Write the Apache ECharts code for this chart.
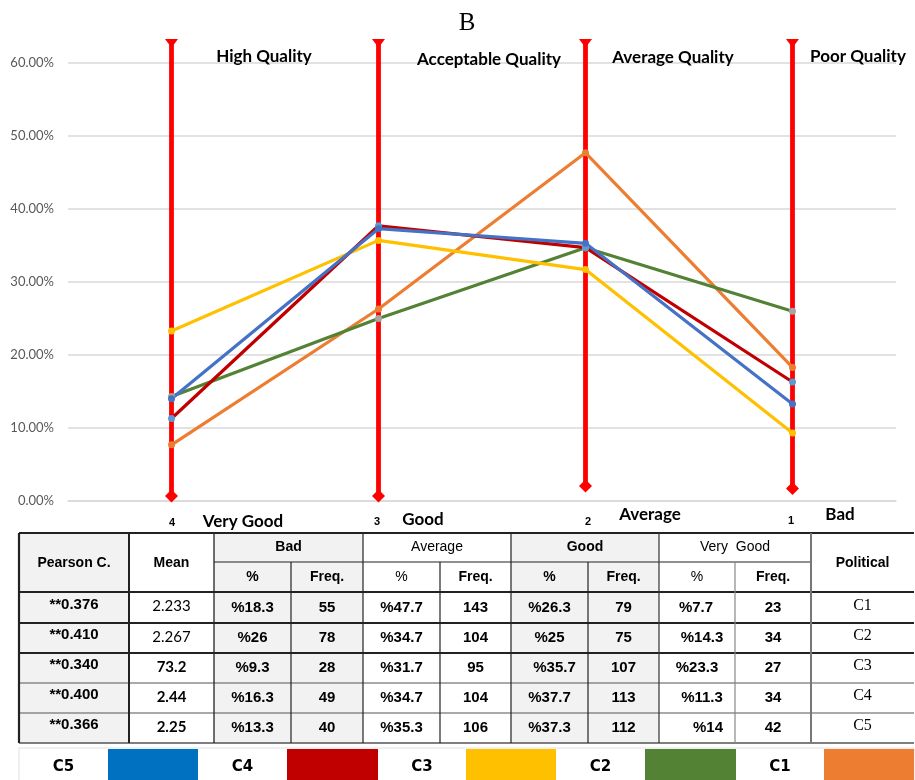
<!DOCTYPE html>
<html>
<head>
<meta charset="utf-8">
<script src="https://cdn.jsdelivr.net/npm/echarts@6/dist/echarts.min.js"></script>
<style>
  html, body { margin: 0; padding: 0; background: #ffffff; }
  #chart { width: 915px; height: 780px; }
</style>
</head>
<body>
<div id="chart"></div>
<script>
// Response levels along the x axis (score, label)
const levelScores = ['4', '3', '2', '1'];
const levelNames = ['Very Good', 'Good', 'Average', 'Bad'];
const qualityNames = ['High Quality', 'Acceptable Quality', 'Average Quality', 'Poor Quality'];

// Groups, one row each in the table
const groups = ['C1', 'C2', 'C3', 'C4', 'C5'];
const pearson = ['**0.376', '**0.410', '**0.340', '**0.400', '**0.366'];
const means = ['2.233', '2.267', '73.2', '2.44', '2.25'];
const badPct = [18.3, 26, 9.3, 16.3, 13.3];
const badFreq = [55, 78, 28, 49, 40];
const avgPct = [47.7, 34.7, 31.7, 34.7, 35.3];
const avgFreq = [143, 104, 95, 104, 106];
const goodPct = [26.3, 25, 35.7, 37.7, 37.3];
const goodFreq = [79, 75, 107, 113, 112];
const vgPct = [7.7, 14.3, 23.3, 11.3, 14];
const vgFreq = [23, 34, 27, 34, 42];

// Y axis ticks (percent)
const yTicks = [0, 10, 20, 30, 40, 50, 60];

// Red level bars: top and bottom in percent units
const levelBarTop = [63.3, 63.3, 63.3, 63.3];
const levelBarBottom = [0.7, 0.7, 2.05, 1.7];

// Colours
const lineColors = { C1: '#ed7d31', C2: '#548235', C3: '#ffc000', C4: '#c00000', C5: '#4472c4' };
const markerColors = { C1: '#ed7d31', C2: '#a5a5a5', C3: '#ffc000', C4: '#5b9bd5', C5: '#4472c4' };
const legendOrder = ['C5', 'C4', 'C3', 'C2', 'C1'];
const legendColors = { C5: '#0070c0', C4: '#c00000', C3: '#ffc000', C2: '#548235', C1: '#ed7d31' };

const chart = echarts.init(document.getElementById('chart'), null, { renderer: 'canvas' });

const lineSeries = groups.map((g, i) => ({
  name: g,
  type: 'line',
  data: [vgPct[i], goodPct[i], avgPct[i], badPct[i]],
  symbol: 'circle',
  symbolSize: 7,
  lineStyle: { color: lineColors[g], width: 3.2 },
  itemStyle: { color: markerColors[g] },
  z: 5,
  animation: false
}));

const barSeries = {
  type: 'custom',
  data: levelBarTop.map((t, i) => [i, t, levelBarBottom[i]]),
  encode: { x: 0, y: [1, 2] },
  z: 3,
  animation: false,
  renderItem(params, api) {
    const top = api.coord([api.value(0), api.value(1)]);
    const bot = api.coord([api.value(0), api.value(2)]);
    const x = top[0];
    const red = '#ff0000';
    return {
      type: 'group',
      children: [
        { type: 'line', shape: { x1: x, y1: top[1] + 3, x2: x, y2: bot[1] },
          style: { stroke: red, lineWidth: 4.8 } },
        { type: 'polygon', shape: { points: [[x - 6.5, top[1]], [x + 6.5, top[1]], [x + 2, top[1] + 6], [x, top[1] + 8], [x - 2, top[1] + 6]] },
          style: { fill: red } },
        { type: 'polygon', shape: { points: [[x, bot[1] - 6.5], [x + 6.5, bot[1]], [x, bot[1] + 6.5], [x - 6.5, bot[1]]] },
          style: { fill: red } }
      ]
    };
  }
};

// ---- Graphic: title, level captions, table and colour key ----
const graphics = [];
function txt(text, x, y, font, opts) {
  opts = opts || {};
  graphics.push({
    type: 'text', z: 100,
    style: {
      text, x, y, font, fill: opts.fill || '#000000',
      textAlign: opts.align || 'center', align: opts.align || 'center',
      textVerticalAlign: 'middle', verticalAlign: 'middle'
    }
  });
}

txt('B', 467, 23, '25px "Liberation Serif"');

const qualityPos = [[264, 57], [489, 60], [673, 58], [858, 57]];
qualityNames.forEach((q, i) => txt(q, qualityPos[i][0], qualityPos[i][1], 'bold 17px Lato'));

const scorePos = [[172, 523], [377, 522], [588, 522], [791, 521]];
levelScores.forEach((s, i) => txt(s, scorePos[i][0], scorePos[i][1], 'bold 11px "Liberation Sans"'));
const namePos = [[243, 522], [423, 520], [650, 515], [840, 515]];
levelNames.forEach((n, i) => txt(n, namePos[i][0], namePos[i][1], 'bold 17px Lato'));

// Table geometry
const colX = [19, 129, 214, 291, 363, 440, 511, 588, 659, 735, 811, 914];
const rowY = [533, 562, 592, 623, 653, 683, 713, 743];
const shadedCols = [0, 2, 3, 6, 7];
const shade = '#f2f2f2';

function rect(x, y, w, h, fill, stroke, lw) {
  graphics.push({
    type: 'rect', z: 10,
    shape: { x, y, width: w, height: h },
    style: { fill: fill || 'none', stroke: stroke || null, lineWidth: lw || 0 }
  });
}
function hline(x1, x2, y, color, lw) {
  graphics.push({ type: 'line', z: 20, shape: { x1, y1: y, x2, y2: y }, style: { stroke: color, lineWidth: lw } });
}
function vline(x, y1, y2, color, lw) {
  graphics.push({ type: 'line', z: 20, shape: { x1: x, y1, x2: x, y2 }, style: { stroke: color, lineWidth: lw } });
}

// shaded columns
shadedCols.forEach(c => rect(colX[c], rowY[0], colX[c + 1] - colX[c], rowY[7] - rowY[0], shade));

// horizontal rules
hline(colX[0], colX[11], rowY[0], '#222', 2);
[2, 4, 6, 8].forEach(c => hline(colX[c], colX[c + 2], rowY[1], '#222', 1.2));
hline(colX[0], colX[11], rowY[2], '#222', 2.2);
hline(colX[0], colX[11], rowY[3], '#222', 2);
hline(colX[0], colX[11], rowY[4], '#222', 2);
hline(colX[0], colX[11], rowY[5], '#555', 1.2);
hline(colX[0], colX[11], rowY[6], '#555', 1.2);
hline(colX[0], colX[11], rowY[7], '#555', 1.5);

// vertical rules
vline(colX[0], rowY[0], rowY[7], '#222', 2.2);
vline(colX[1], rowY[0], rowY[7], '#222', 2);
vline(colX[2], rowY[0], rowY[7], '#222', 1.3);
vline(colX[3], rowY[1], rowY[7], '#222', 1.2);
vline(colX[4], rowY[0], rowY[7], '#222', 1.2);
vline(colX[5], rowY[1], rowY[7], '#222', 1.2);
vline(colX[6], rowY[0], rowY[7], '#222', 1.2);
vline(colX[7], rowY[1], rowY[7], '#222', 1.2);
vline(colX[8], rowY[0], rowY[7], '#333', 1.2);
vline(colX[9], rowY[1], rowY[7], '#888', 1.2);
vline(colX[10], rowY[0], rowY[7], '#777', 2);

// header text
const hFont = 'bold 14px "Liberation Sans"';
function cx(c1, c2) { return (colX[c1] + colX[c2]) / 2; }
const hMid = (rowY[0] + rowY[2]) / 2 + 1;
const h1 = (rowY[0] + rowY[1]) / 2;
const h2 = (rowY[1] + rowY[2]) / 2;
txt('Pearson C.', cx(0, 1), hMid, hFont);
txt('Mean', cx(1, 2), hMid, hFont);
txt('Political', cx(10, 11), hMid, hFont);
[['Bad', 2], ['Average', 4], ['Good', 6], ['Very  Good', 8]].forEach(([t, c]) => {
  const light = c === 4 || c === 8;
  txt(t, cx(c, c + 2), h1, light ? '14px "Liberation Sans"' : hFont);
  txt('%', cx(c, c + 1), h2, light ? '14px "Liberation Sans"' : hFont);
  txt('Freq.', cx(c + 1, c + 2), h2, hFont);
});

// data rows; small per-row nudges follow the cell text placement
const goodShift = [0, 0, 5, 0, 0];
const vgCenter = [696, 702, 697, 702, 708];
const dFont = 'bold 15px "Liberation Sans"';
groups.forEach((g, i) => {
  const y = (rowY[i + 2] + rowY[i + 3]) / 2;
  txt(pearson[i], cx(0, 1), y - 3, dFont);
  txt(means[i], cx(1, 2), y - 1, i < 2 ? '15px Lato' : 'bold 15px Lato');
  txt('%' + badPct[i], cx(2, 3), y, dFont);
  txt(String(badFreq[i]), cx(3, 4), y, dFont);
  txt('%' + avgPct[i], cx(4, 5), y, dFont);
  txt(String(avgFreq[i]), cx(5, 6), y, dFont);
  txt('%' + goodPct[i], cx(6, 7) + goodShift[i], y, dFont);
  txt(String(goodFreq[i]), cx(7, 8), y, dFont);
  txt('%' + vgPct[i], vgCenter[i], y, dFont);
  txt(String(vgFreq[i]), cx(9, 10), y, dFont);
  txt(g, cx(10, 11), y - 2, '16px "Liberation Serif"');
});

// colour key row
const keyTop = 749, keyBottom = 781;
const keyX = [19, 108, 198, 287, 378, 466, 556, 645, 736, 824, 914];
rect(19, keyTop - 1, 895, keyBottom - keyTop + 2, '#ffffff', '#e0e0e0', 1);
legendOrder.forEach((g, i) => {
  const tx0 = keyX[i * 2], bx0 = keyX[i * 2 + 1], bx1 = keyX[i * 2 + 2];
  txt(g, (tx0 + bx0) / 2, keyTop + 18, 'bold 15px "DejaVu Sans"');
  rect(bx0, keyTop, bx1 - bx0, keyBottom - keyTop, legendColors[g]);
});

const option = {
  backgroundColor: '#ffffff',
  animation: false,
  grid: { left: 68, right: 19, top: 63, bottom: 279, containLabel: false },
  xAxis: {
    type: 'category',
    data: levelScores,
    boundaryGap: true,
    axisLine: { show: true, lineStyle: { color: '#d9d9d9', width: 1.5 } },
    axisTick: { show: false },
    axisLabel: { show: false },
    splitLine: { show: false }
  },
  yAxis: {
    type: 'value',
    min: yTicks[0],
    max: yTicks[yTicks.length - 1],
    interval: yTicks[1] - yTicks[0],
    axisLine: { show: false },
    axisTick: { show: false },
    axisLabel: {
      formatter: v => v.toFixed(2) + '%',
      color: '#595959',
      fontFamily: 'Lato',
      fontSize: 13,
      margin: 14
    },
    splitLine: { lineStyle: { color: '#d9d9d9', width: 1.5 } }
  },
  series: [barSeries].concat(lineSeries),
  graphic: { elements: graphics }
};

chart.setOption(option);
</script>
</body>
</html>
